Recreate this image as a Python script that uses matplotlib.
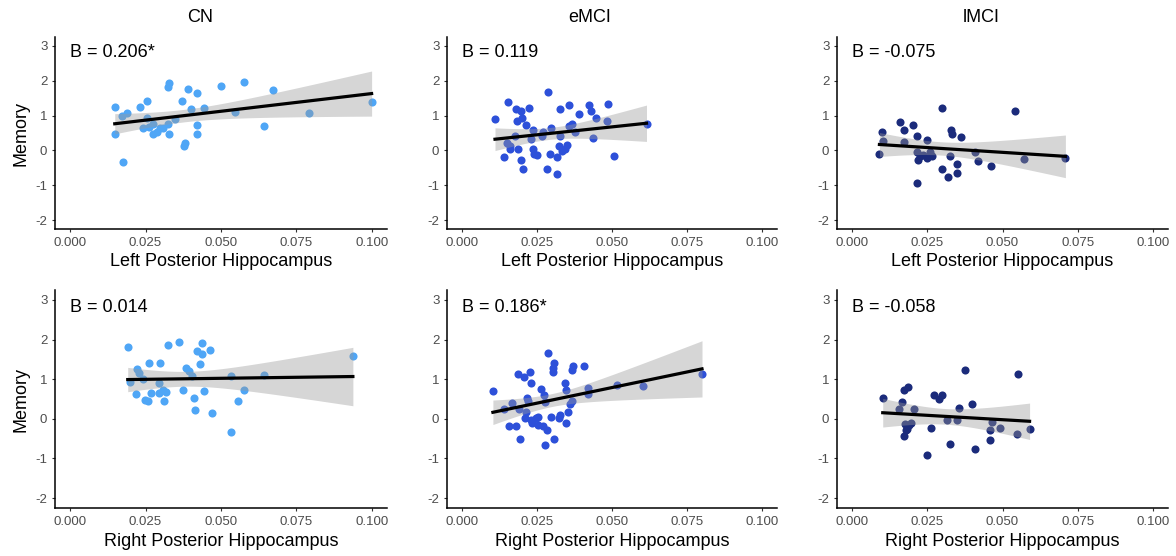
import numpy as np
import matplotlib
matplotlib.use('Agg')
import matplotlib.pyplot as plt

plt.rcParams['font.family'] = ['Liberation Sans', 'DejaVu Sans']
plt.rcParams['axes.unicode_minus'] = False

groups = ["CN", "eMCI", "lMCI"]
regions = ["Left Posterior Hippocampus", "Right Posterior Hippocampus"]
betas = [["B = 0.206*", "B = 0.119", "B = -0.075"],
         ["B = 0.014", "B = 0.186*", "B = -0.058"]]
colors = ["#4FA6F6", "#2D50D9", "#1B2B7B"]

x_ticks = [0.0, 0.025, 0.05, 0.075, 0.1]
x_ticklabels = ["0.000", "0.025", "0.050", "0.075", "0.100"]
y_ticks = [-2, -1, 0, 1, 2, 3]

# left posterior hippocampus
cn_left_x = [0.0150, 0.0148, 0.0174, 0.0172, 0.0188, 0.0233, 0.0254, 0.0254, 0.0243,
             0.0260, 0.0274, 0.0274, 0.0287, 0.0298, 0.0309, 0.0324, 0.0329, 0.0327,
             0.0324, 0.0349, 0.0370, 0.0379, 0.0382, 0.0392, 0.0401, 0.0421, 0.0421,
             0.0419, 0.0443, 0.0501, 0.0548, 0.0577, 0.0643, 0.0671, 0.0790, 0.0999]
cn_left_y = [1.25, 0.47, -0.33, 0.99, 1.08, 1.25, 1.43, 0.92, 0.65,
             0.68, 0.76, 0.46, 0.54, 0.65, 0.63, 0.75, 0.46, 1.92,
             1.83, 0.90, 1.43, 0.13, 0.22, 1.75, 1.18, 1.65, 0.73,
             0.46, 1.23, 1.85, 1.10, 1.96, 0.70, 1.73, 1.06, 1.39]

emci_left_x = [0.0110, 0.0152, 0.0140, 0.0149, 0.0160, 0.0159, 0.0177, 0.0180, 0.0196,
               0.0182, 0.0199, 0.0186, 0.0197, 0.0203, 0.0213, 0.0223, 0.0236, 0.0231,
               0.0236, 0.0240, 0.0251, 0.0266, 0.0271, 0.0287, 0.0295, 0.0292, 0.0283,
               0.0316, 0.0317, 0.0327, 0.0326, 0.0323, 0.0334, 0.0342, 0.0350, 0.0355,
               0.0356, 0.0367, 0.0377, 0.0391, 0.0423, 0.0431, 0.0437, 0.0446, 0.0483,
               0.0487, 0.0506, 0.0615]
emci_left_y = [0.90, 1.40, -0.19, 0.22, 0.13, 0.05, 0.41, 1.19, 1.14,
               0.85, 0.92, 0.03, -0.28, -0.53, 0.72, 1.23, 0.60, 0.34,
               0.03, -0.11, -0.14, 0.40, 0.52, 1.68, 0.63, -0.11, -0.52,
               -0.19, -0.68, 1.19, 0.41, 0.12, -0.02, 0.04, 0.17, 1.30,
               0.71, 0.76, 0.54, 1.04, 1.31, 1.13, 0.36, 0.92, 0.84,
               1.34, -0.17, 0.75]

lmci_left_x = [0.0091, 0.0101, 0.0103, 0.0161, 0.0173, 0.0171, 0.0201, 0.0217, 0.0215,
               0.0226, 0.0220, 0.0235, 0.0217, 0.0250, 0.0250, 0.0259, 0.0266, 0.0299,
               0.0299, 0.0327, 0.0329, 0.0333, 0.0318, 0.0348, 0.0350, 0.0362, 0.0408,
               0.0417, 0.0461, 0.0543, 0.0570, 0.0709]
lmci_left_y = [-0.11, 0.53, 0.27, 0.81, 0.58, 0.25, 0.73, 0.42, -0.05,
               -0.15, -0.28, -0.13, -0.93, 0.29, -0.23, -0.04, -0.16, 1.22,
               -0.53, -0.15, 0.58, 0.48, -0.76, -0.64, -0.39, 0.38, -0.05,
               -0.30, -0.44, 1.14, -0.25, -0.21]

# right posterior hippocampus
cn_right_x = [0.0191, 0.0199, 0.0219, 0.0221, 0.0228, 0.0243, 0.0247, 0.0257, 0.0262,
              0.0267, 0.0297, 0.0295, 0.0296, 0.0307, 0.0318, 0.0312, 0.0323, 0.0360,
              0.0375, 0.0384, 0.0393, 0.0404, 0.0412, 0.0414, 0.0430, 0.0419, 0.0437,
              0.0438, 0.0443, 0.0464, 0.0470, 0.0533, 0.0534, 0.0555, 0.0575, 0.0641,
              0.0937]
cn_right_y = [1.82, 0.92, 0.62, 1.25, 1.16, 1.00, 0.47, 0.46, 1.42,
              0.66, 1.42, 0.91, 0.66, 0.72, 0.68, 0.46, 1.85, 1.95,
              0.73, 1.27, 1.21, 1.09, 0.53, 0.22, 1.38, 1.72, 1.64,
              1.92, 0.70, 1.74, 0.14, 1.09, -0.33, 0.46, 0.73, 1.11,
              1.59]

emci_right_x = [0.0103, 0.0140, 0.0168, 0.0157, 0.0179, 0.0193, 0.0188, 0.0207, 0.0225,
                0.0229, 0.0190, 0.0212, 0.0209, 0.0215, 0.0220, 0.0229, 0.0234, 0.0245,
                0.0254, 0.0253, 0.0264, 0.0273, 0.0275, 0.0270, 0.0284, 0.0286, 0.0276,
                0.0295, 0.0308, 0.0306, 0.0303, 0.0304, 0.0323, 0.0327, 0.0348, 0.0342,
                0.0348, 0.0352, 0.0361, 0.0367, 0.0369, 0.0367, 0.0405, 0.0420, 0.0420,
                0.0516, 0.0604, 0.0800]
emci_right_y = [0.71, 0.24, 0.40, -0.18, -0.18, -0.52, 1.13, 1.06, 1.19,
                0.91, 0.25, 0.18, 0.01, 0.52, 0.45, -0.03, -0.11, 0.01,
                0.04, -0.16, 0.75, 0.60, 0.43, -0.18, -0.27, 1.67, -0.67,
                0.05, -0.52, 1.40, 1.29, 1.18, 0.02, 0.10, -0.11, 0.91,
                0.73, 0.16, 0.37, 0.46, 1.33, 1.23, 1.33, 0.77, 0.63,
                0.86, 0.83, 1.12]

lmci_right_x = [0.0102, 0.0166, 0.0157, 0.0174, 0.0187, 0.0171, 0.0177, 0.0182, 0.0188,
                0.0196, 0.0180, 0.0207, 0.0248, 0.0261, 0.0273, 0.0290, 0.0298, 0.0316,
                0.0327, 0.0348, 0.0355, 0.0376, 0.0397, 0.0408, 0.0457, 0.0460, 0.0464,
                0.0493, 0.0548, 0.0553, 0.0590]
lmci_right_y = [0.53, 0.42, 0.24, 0.73, 0.80, -0.43, -0.12, -0.25, -0.16,
                -0.10, -0.28, 0.26, -0.92, -0.23, 0.59, 0.49, 0.59, -0.03,
                -0.64, -0.03, 0.28, 1.22, 0.38, -0.77, -0.54, -0.29, -0.07,
                -0.22, -0.39, 1.13, -0.25]

panels = [[(cn_left_x, cn_left_y), (emci_left_x, emci_left_y), (lmci_left_x, lmci_left_y)],
          [(cn_right_x, cn_right_y), (emci_right_x, emci_right_y), (lmci_right_x, lmci_right_y)]]


def t975(df):
    # Cornish-Fisher approximation of the 97.5% Student t quantile
    z = 1.959964
    g1 = (z**3 + z) / 4
    g2 = (5*z**5 + 16*z**3 + 3*z) / 96
    g3 = (3*z**7 + 19*z**5 + 17*z**3 - 15*z) / 384
    return z + g1/df + g2/df**2 + g3/df**3


def lm_band(x, y, n=80):
    x = np.asarray(x)
    y = np.asarray(y)
    b1, b0 = np.polyfit(x, y, 1)
    xs = np.linspace(x.min(), x.max(), n)
    fit = b0 + b1 * xs
    dof = len(x) - 2
    s = np.sqrt(np.sum((y - (b0 + b1 * x))**2) / dof)
    se = s * np.sqrt(1/len(x) + (xs - x.mean())**2 / np.sum((x - x.mean())**2))
    t = t975(dof)
    return xs, fit, fit - t*se, fit + t*se


W, H = 1176, 556
fig = plt.figure(figsize=(W/100, H/100), dpi=100)

col_left = [55, 447, 837]
col_width = [332, 330, 331]
row_top = [37, 290]
row_height = [192, 218]
title_x = [200, 590, 981]

for r in range(2):
    for c in range(3):
        ax = fig.add_axes([col_left[c]/W, 1 - (row_top[r] + row_height[r])/H,
                           col_width[c]/W, row_height[r]/H])
        x, y = panels[r][c]
        ax.scatter(x, y, s=34, color=colors[c], linewidths=0, zorder=2)
        xs, fit, lo, hi = lm_band(x, y)
        ax.fill_between(xs, lo, hi, color="#999999", alpha=0.4, linewidth=0, zorder=3)
        ax.plot(xs, fit, color="black", lw=2.3, zorder=4)
        ax.text(0.0, 2.82, betas[r][c], ha="left", va="center", fontsize=13, color="black")

        ax.set_xlim(-0.005, 0.105)
        ax.set_ylim(-2.25, 3.25)
        ax.set_xticks(x_ticks)
        ax.set_xticklabels(x_ticklabels)
        ax.set_yticks(y_ticks)
        ax.tick_params(labelsize=9.5, labelcolor="#4D4D4D", color="#333333",
                       length=2.5, width=0.8, pad=3)
        for side in ["top", "right"]:
            ax.spines[side].set_visible(False)
        for side in ["left", "bottom"]:
            ax.spines[side].set_linewidth(1.1)
        ax.set_xlabel(regions[r], fontsize=13, labelpad=3.5)
        if c == 0:
            ax.set_ylabel("Memory", fontsize=13, labelpad=4)
        if r == 0:
            fig.text(title_x[c]/W, 1 - 17/H, groups[c], ha="center", va="center", fontsize=13)

fig.savefig("out.png", dpi=100)
